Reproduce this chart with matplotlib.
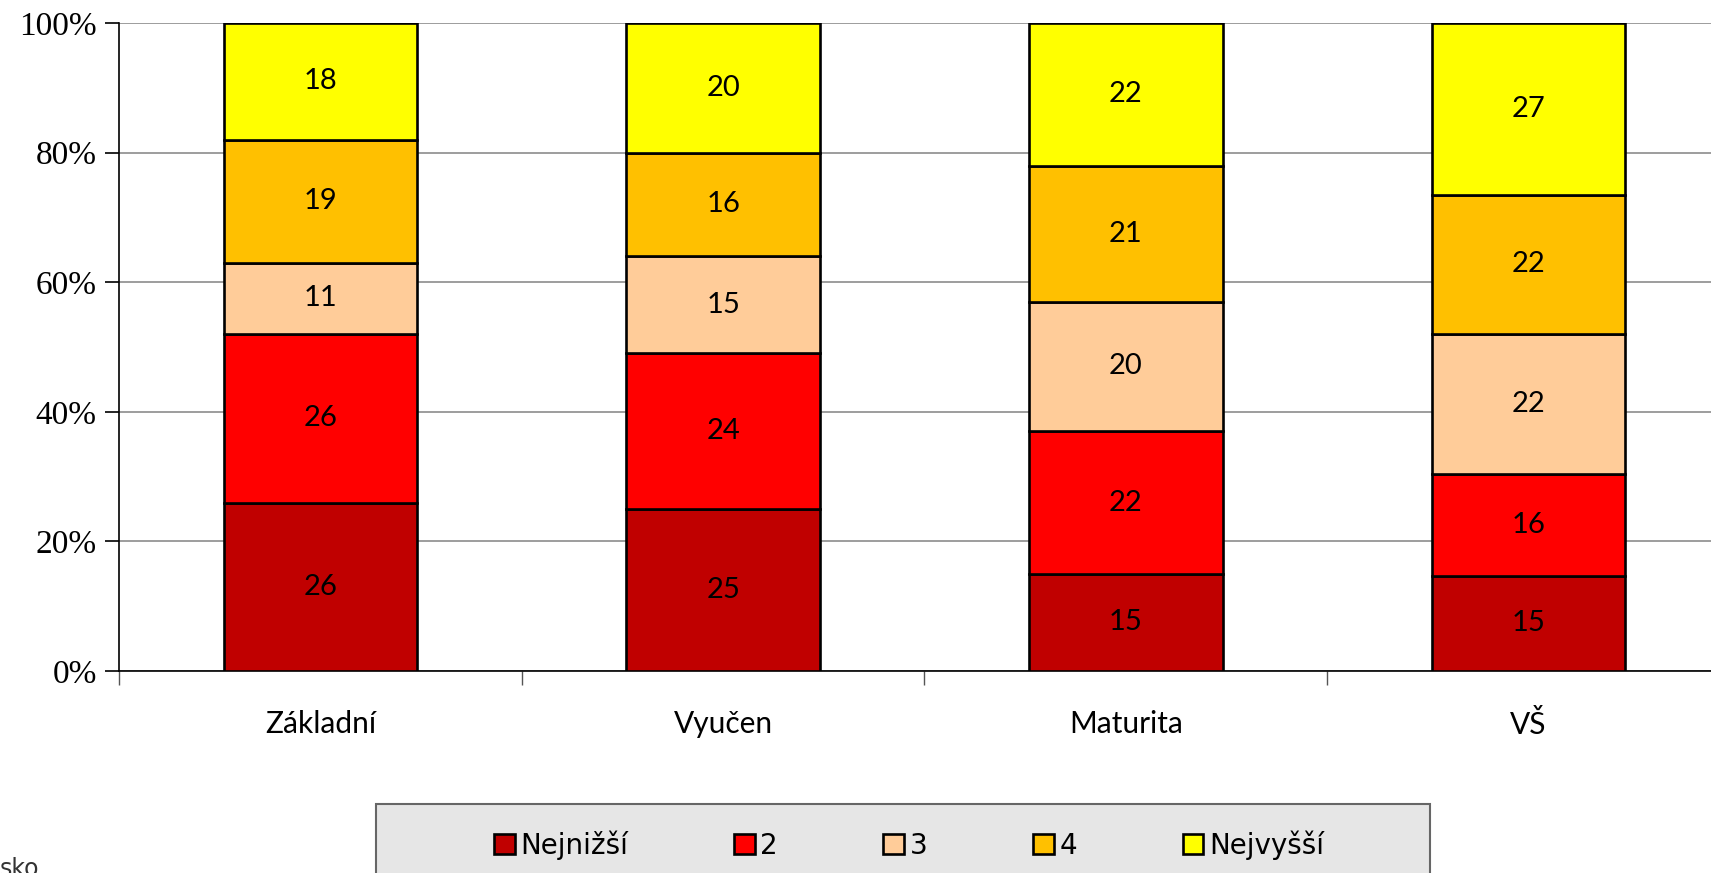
import numpy as np
import matplotlib.pyplot as plt
from matplotlib.patches import Rectangle

kategorie = ['Základní', 'Vyučen', 'Maturita', 'VŠ']
serie = ['Nejnižší', '2', '3', '4', 'Nejvyšší']
barvy = ['#C00000', '#FF0000', '#FFCC99', '#FFC000', '#FFFF00']

nejnizsi = [26, 25, 15, 15]
dva = [26, 24, 22, 16]
tri = [11, 15, 20, 22]
ctyri = [19, 16, 21, 22]
nejvyssi = [18, 20, 22, 27]

data = np.array([nejnizsi, dva, tri, ctyri, nejvyssi], dtype=float)
podil = data / data.sum(axis=0) * 100

fig = plt.figure(figsize=(17.11, 8.73), dpi=100)
ax = fig.add_axes([119/1711, 1 - 671/873, 1611/1711, 648/873])

x = np.arange(len(kategorie))
dole = np.zeros(len(kategorie))
for i in range(len(serie)):
    ax.bar(x, podil[i], 0.48, bottom=dole, color=barvy[i], edgecolor='black',
           linewidth=1.9, label=serie[i], zorder=3)
    for j in range(len(kategorie)):
        ax.text(x[j], dole[j] + podil[i][j] / 2, '%d' % data[i][j], ha='center', va='center',
                fontsize=21, family=['Lato', 'DejaVu Sans'], zorder=4)
    dole = dole + podil[i]

ax.set_xlim(-0.5, 3.5)
ax.set_ylim(0, 100)
ax.set_yticks(range(0, 101, 20))
ax.set_yticklabels(['%d%%' % v for v in range(0, 101, 20)], family='Liberation Serif', fontsize=24)
ax.yaxis.grid(True, color='#8c8c8c', linewidth=1.2, zorder=0)
ax.set_axisbelow(True)
ax.tick_params(axis='y', length=10, width=1.2, pad=6)

ax.set_xticks(x)
ax.set_xticklabels(kategorie, family=['Lato', 'DejaVu Sans'], fontsize=21.5)
ax.set_xticks(np.arange(-0.5, 3.6, 1), minor=True)
ax.tick_params(axis='x', which='major', length=0, pad=28)
ax.tick_params(axis='x', which='minor', length=10, width=1.0, color='#555555')

ax.spines['top'].set_visible(False)
ax.spines['right'].set_visible(False)
ax.spines['left'].set_linewidth(1.2)
ax.spines['bottom'].set_linewidth(1.2)

# legenda v sedem boxu dole
fig.patches.append(Rectangle((376/1711, -0.05), 1054/1711, (873-804)/873 + 0.05,
                             transform=fig.transFigure, facecolor='#E6E6E6',
                             edgecolor='#666666', linewidth=1.5))
h, l = ax.get_legend_handles_labels()
fig.legend(h, l, ncol=5, mode='expand', frameon=False,
           bbox_to_anchor=(494/1711, 1 - 860/873, 830/1711, 36/873), loc='lower left',
           borderaxespad=0, borderpad=0, handlelength=0.75, handleheight=0.75,
           handletextpad=0.2, prop={'family': ['Liberation Sans Narrow', 'DejaVu Sans'], 'size': 20})

fig.text(0.0, 1 - 869/873, 'sko', fontsize=17, va='center', ha='left', color='#333333')

fig.savefig('out.png', dpi=100)
